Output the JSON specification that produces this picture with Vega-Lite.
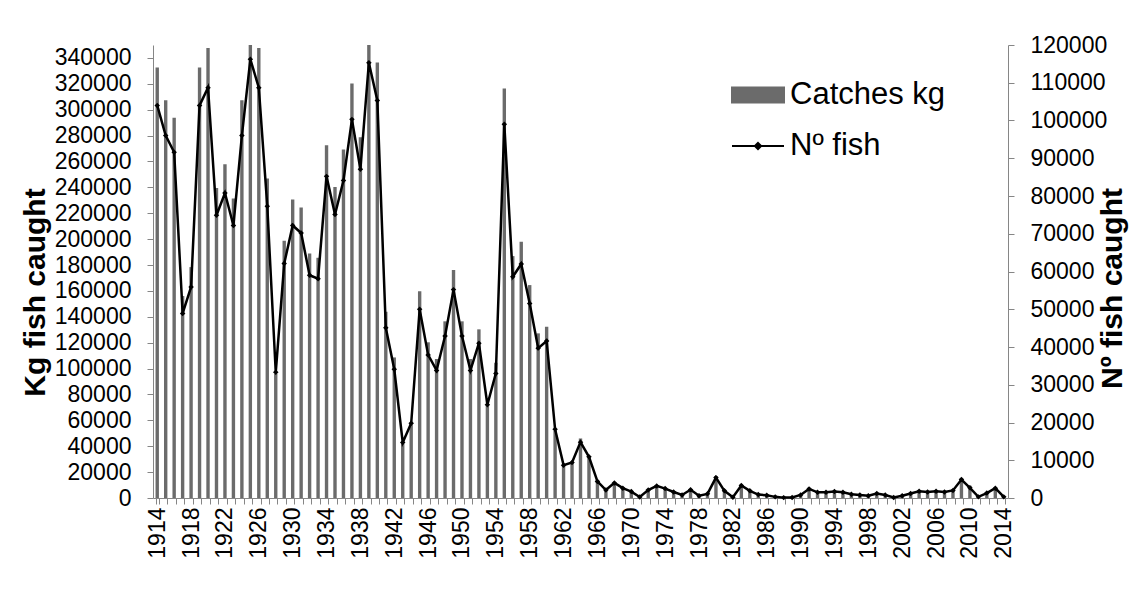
{
  "$schema": "https://vega.github.io/schema/vega-lite/v6.json",
  "autosize": {"type": "none"},
  "width": 855,
  "height": 453,
  "padding": {"left": 153, "top": 45, "right": 121, "bottom": 108},
  "config": {
    "font": "Liberation Sans",
    "view": {"stroke": null},
    "axis": {"labelColor": "#000000", "domainColor": "#868686", "tickColor": "#868686", "grid": false}
  },
  "data": {
    "values": [
      {"year": 1914, "kg": 332600, "fish": 104000},
      {"year": 1915, "kg": 307300, "fish": 96000},
      {"year": 1916, "kg": 293700, "fish": 91600},
      {"year": 1917, "kg": 156000, "fish": 48900},
      {"year": 1918, "kg": 178400, "fish": 55900},
      {"year": 1919, "kg": 332600, "fish": 104000},
      {"year": 1920, "kg": 347700, "fish": 108700},
      {"year": 1921, "kg": 239600, "fish": 74900},
      {"year": 1922, "kg": 257900, "fish": 80800},
      {"year": 1923, "kg": 231400, "fish": 72200},
      {"year": 1924, "kg": 307300, "fish": 96000},
      {"year": 1925, "kg": 358000, "fish": 116200},
      {"year": 1926, "kg": 347700, "fish": 108700},
      {"year": 1927, "kg": 246800, "fish": 77300},
      {"year": 1928, "kg": 96000, "fish": 33300},
      {"year": 1929, "kg": 198700, "fish": 62100},
      {"year": 1930, "kg": 230600, "fish": 72200},
      {"year": 1931, "kg": 224500, "fish": 70200},
      {"year": 1932, "kg": 188900, "fish": 59000},
      {"year": 1933, "kg": 185600, "fish": 58100},
      {"year": 1934, "kg": 272600, "fish": 85200},
      {"year": 1935, "kg": 240200, "fish": 75100},
      {"year": 1936, "kg": 269200, "fish": 84100},
      {"year": 1937, "kg": 320200, "fish": 100300},
      {"year": 1938, "kg": 278800, "fish": 87100},
      {"year": 1939, "kg": 360000, "fish": 115300},
      {"year": 1940, "kg": 336400, "fish": 105300},
      {"year": 1941, "kg": 143900, "fish": 45100},
      {"year": 1942, "kg": 108600, "fish": 34100},
      {"year": 1943, "kg": 42000, "fish": 14700},
      {"year": 1944, "kg": 57000, "fish": 19800},
      {"year": 1945, "kg": 159800, "fish": 50000},
      {"year": 1946, "kg": 120300, "fish": 37900},
      {"year": 1947, "kg": 107400, "fish": 33800},
      {"year": 1948, "kg": 136500, "fish": 42900},
      {"year": 1949, "kg": 176100, "fish": 55200},
      {"year": 1950, "kg": 136500, "fish": 42900},
      {"year": 1951, "kg": 107400, "fish": 33800},
      {"year": 1952, "kg": 130300, "fish": 41000},
      {"year": 1953, "kg": 71000, "fish": 24700},
      {"year": 1954, "kg": 104500, "fish": 33000},
      {"year": 1955, "kg": 316300, "fish": 99000},
      {"year": 1956, "kg": 186900, "fish": 58600},
      {"year": 1957, "kg": 197900, "fish": 62000},
      {"year": 1958, "kg": 164500, "fish": 51500},
      {"year": 1959, "kg": 127200, "fish": 39700},
      {"year": 1960, "kg": 132400, "fish": 41600},
      {"year": 1961, "kg": 52000, "fish": 18200},
      {"year": 1962, "kg": 25000, "fish": 8700},
      {"year": 1963, "kg": 27000, "fish": 9400},
      {"year": 1964, "kg": 46000, "fish": 14800},
      {"year": 1965, "kg": 31000, "fish": 10900},
      {"year": 1966, "kg": 14000, "fish": 4400},
      {"year": 1967, "kg": 7000, "fish": 2100},
      {"year": 1968, "kg": 11500, "fish": 4000},
      {"year": 1969, "kg": 8000, "fish": 2600},
      {"year": 1970, "kg": 5500, "fish": 1700},
      {"year": 1971, "kg": 700, "fish": 250},
      {"year": 1972, "kg": 6500, "fish": 2100},
      {"year": 1973, "kg": 9800, "fish": 3200},
      {"year": 1974, "kg": 8000, "fish": 2500},
      {"year": 1975, "kg": 5000, "fish": 1600},
      {"year": 1976, "kg": 2800, "fish": 800},
      {"year": 1977, "kg": 6700, "fish": 2200},
      {"year": 1978, "kg": 1800, "fish": 600},
      {"year": 1979, "kg": 3500, "fish": 1100},
      {"year": 1980, "kg": 17000, "fish": 5400},
      {"year": 1981, "kg": 6500, "fish": 1900},
      {"year": 1982, "kg": 700, "fish": 200},
      {"year": 1983, "kg": 10500, "fish": 3300},
      {"year": 1984, "kg": 6500, "fish": 1900},
      {"year": 1985, "kg": 3000, "fish": 900},
      {"year": 1986, "kg": 2500, "fish": 700},
      {"year": 1987, "kg": 1000, "fish": 300},
      {"year": 1988, "kg": 400, "fish": 100},
      {"year": 1989, "kg": 400, "fish": 150},
      {"year": 1990, "kg": 2500, "fish": 800},
      {"year": 1991, "kg": 8000, "fish": 2400},
      {"year": 1992, "kg": 5000, "fish": 1500},
      {"year": 1993, "kg": 5000, "fish": 1500},
      {"year": 1994, "kg": 5500, "fish": 1700},
      {"year": 1995, "kg": 5000, "fish": 1500},
      {"year": 1996, "kg": 3200, "fish": 1000},
      {"year": 1997, "kg": 2500, "fish": 800},
      {"year": 1998, "kg": 2000, "fish": 600},
      {"year": 1999, "kg": 4000, "fish": 1200},
      {"year": 2000, "kg": 2500, "fish": 800},
      {"year": 2001, "kg": 500, "fish": 150},
      {"year": 2002, "kg": 2000, "fish": 600},
      {"year": 2003, "kg": 4000, "fish": 1200},
      {"year": 2004, "kg": 6000, "fish": 1800},
      {"year": 2005, "kg": 5500, "fish": 1600},
      {"year": 2006, "kg": 6000, "fish": 1800},
      {"year": 2007, "kg": 5500, "fish": 1600},
      {"year": 2008, "kg": 6500, "fish": 2000},
      {"year": 2009, "kg": 15500, "fish": 4900},
      {"year": 2010, "kg": 9500, "fish": 2700},
      {"year": 2011, "kg": 1000, "fish": 300},
      {"year": 2012, "kg": 4000, "fish": 1300},
      {"year": 2013, "kg": 8000, "fish": 2600},
      {"year": 2014, "kg": 1000, "fish": 300}
    ]
  },
  "encoding": {
    "x": {
      "field": "year",
      "type": "ordinal",
      "scale": {"paddingInner": 0.6, "paddingOuter": 0.3},
      "axis": {
        "title": null,
        "labelExpr": "(datum.value - 1914) % 4 == 0 ? datum.value : ''",
        "labelAngle": 270,
        "labelFontSize": 23,
        "labelOverlap": false,
        "labelPadding": 3,
        "tickBand": "extent",
        "tickSize": 6
      }
    }
  },
  "layer": [
    {
      "mark": {"type": "bar", "clip": true},
      "encoding": {
        "y": {
          "field": "kg",
          "type": "quantitative",
          "scale": {"domain": [0, 350000]},
          "axis": {
            "orient": "left",
            "title": "Kg fish caught",
            "values": [0, 20000, 40000, 60000, 80000, 100000, 120000, 140000, 160000, 180000, 200000, 220000, 240000, 260000, 280000, 300000, 320000, 340000],
            "format": "d",
            "labelFontSize": 23,
            "labelPadding": 16,
            "tickSize": 6,
            "titleFontSize": 30,
            "titleFontWeight": "bold",
            "titleAngle": 270,
            "titleX": -118,
            "titleY": 247,
            "titleAlign": "center",
            "titleBaseline": "middle"
          }
        },
        "color": {
          "datum": "Catches kg",
          "type": "nominal",
          "scale": {"domain": ["Catches kg", "Nº fish"], "range": ["#6b6b6b", "#000000"]},
          "legend": {
            "title": null,
            "orient": "none",
            "legendX": 578,
            "legendY": 23,
            "padding": 0,
            "rowPadding": 9,
            "labelFontSize": 31,
            "labelOffset": 5,
            "symbolSize": 2704,
            "encode": {
              "symbols": {
                "update": {
                  "shape": {"signal": "datum.value == 'Catches kg' ? 'M-1,-0.29H1V0.29H-1Z' : 'M-1,0H1M0,-0.12L0.12,0L0,0.12L-0.12,0Z'"},
                  "fill": {"signal": "datum.value == 'Catches kg' ? '#6b6b6b' : '#000000'"},
                  "stroke": {"signal": "datum.value == 'Catches kg' ? '#6b6b6b' : '#000000'"},
                  "strokeWidth": {"value": 2},
                  "opacity": {"value": 1},
                  "fillOpacity": {"value": 1}
                }
              }
            }
          }
        }
      }
    },
    {
      "mark": {"type": "line", "strokeWidth": 2.5, "point": {"filled": true, "shape": "diamond", "size": 30}},
      "encoding": {
        "y": {
          "field": "fish",
          "type": "quantitative",
          "scale": {"domain": [0, 120000]},
          "axis": {
            "orient": "right",
            "title": "Nº fish caught",
            "values": [0, 10000, 20000, 30000, 40000, 50000, 60000, 70000, 80000, 90000, 100000, 110000, 120000],
            "format": "d",
            "labelFontSize": 23,
            "labelPadding": 16,
            "tickSize": 6,
            "titleFontSize": 30,
            "titleFontWeight": "bold",
            "titleAngle": 270,
            "titleX": 104,
            "titleY": 243,
            "titleAlign": "center",
            "titleBaseline": "middle"
          }
        },
        "color": {"datum": "Nº fish", "type": "nominal"}
      }
    }
  ],
  "resolve": {"scale": {"y": "independent"}}
}
